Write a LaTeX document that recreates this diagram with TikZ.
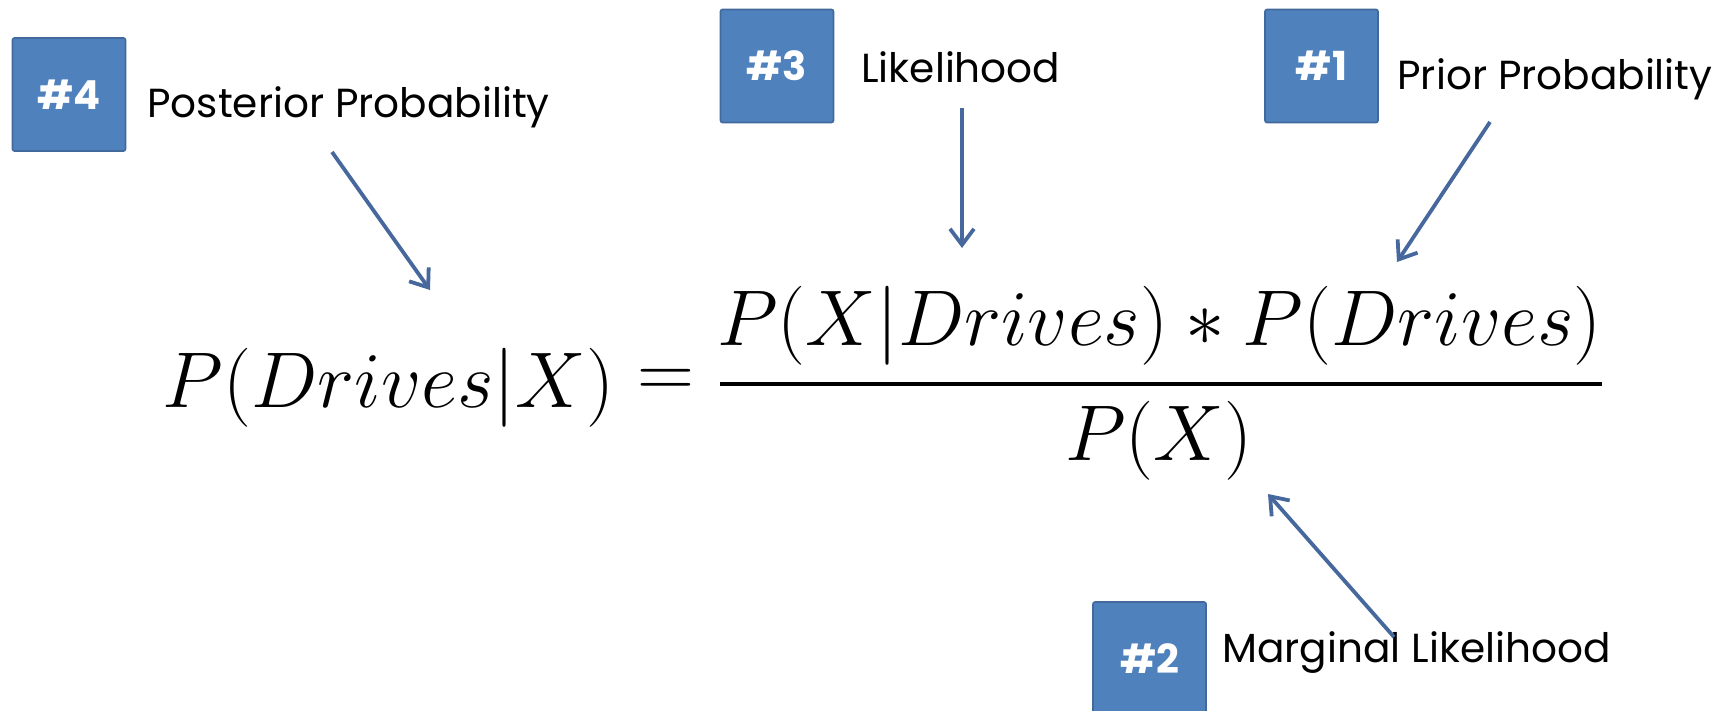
\documentclass[tikz,border=0pt]{standalone}
\usepackage{fix-cm}
\usepackage{amsmath}
\usepackage{fontspec}
\newfontfamily\labelfont{Poppins}
\usetikzlibrary{arrows.meta}
\definecolor{boxblue}{HTML}{4F81BD}
\definecolor{boxedge}{HTML}{41699C}
\definecolor{arrowblue}{HTML}{46689C}
\tikzset{>={Straight Barb[length=8pt,width=12pt]}}
\tikzset{
  numbox/.style={rectangle, rounded corners=1pt, minimum size=56.5pt, inner sep=0pt,
    fill=boxblue, draw=boxedge, line width=0.8pt, text=white,
    font=\labelfont\bfseries\fontsize{20}{24}\selectfont},
  termlabel/.style={anchor=base west, inner sep=0pt, font=\labelfont\fontsize{20.3}{24}\selectfont},
  formula/.style={anchor=base, inner sep=0pt, font=\fontsize{39.5}{48}\selectfont},
  pointer/.style={->, draw=arrowblue, line width=1.9pt}
}

\begin{document}
\begin{tikzpicture}[x=0.5pt, y=-0.5pt]
\useasboundingbox (0,0) rectangle (1733,711);
% numbered boxes
\node (b4) at (69,94.5) [numbox] {\#4};
\node (b3) at (777,66) [numbox] {\#3};
\node (b1) at (1321.5,66) [numbox] {\#1};
\node (b2) at (1149.5,658.5) [numbox] {\#2};
% names of the terms
\node (post) at (147,118) [termlabel] {Posterior Probability};
\node (lik) at (861,83) [termlabel] {Likelihood};
\node (prior) at (1397,90) [termlabel] {Prior Probability};
\node (marg) at (1222,662) [termlabel] {Marginal Likelihood};
% the formula
\node (lhs) at (388.5,407) [formula] {$P(Drives|X)$};
\node (eqs) at (666,383) [inner sep=0pt, font=\fontsize{39.5}{48}\selectfont] {$=$};
\node (num) at (1159.5,345) [formula] {$P(X|Drives)*P(Drives)$};
\node (den) at (1158.5,460) [formula] {$P(X)$};
\coordinate (barL) at (720,384);
\coordinate (barR) at (1602,384);
\draw[line width=2.2pt] (barL) -- (barR);
% arrows
\coordinate (post-from) at (332,152);
\coordinate (post-to) at (430,290);
\coordinate (lik-from) at (962,108);
\coordinate (lik-to) at (962,248);
\coordinate (prior-from) at (1490,122);
\coordinate (prior-to) at (1397,262);
\coordinate (marg-from) at (1394,637);
\coordinate (marg-to) at (1268,494);
\draw[pointer] (post-from) -- (post-to);
\draw[pointer] (lik-from) -- (lik-to);
\draw[pointer] (prior-from) -- (prior-to);
\draw[pointer] (marg-from) -- (marg-to);
\end{tikzpicture}
\end{document}
